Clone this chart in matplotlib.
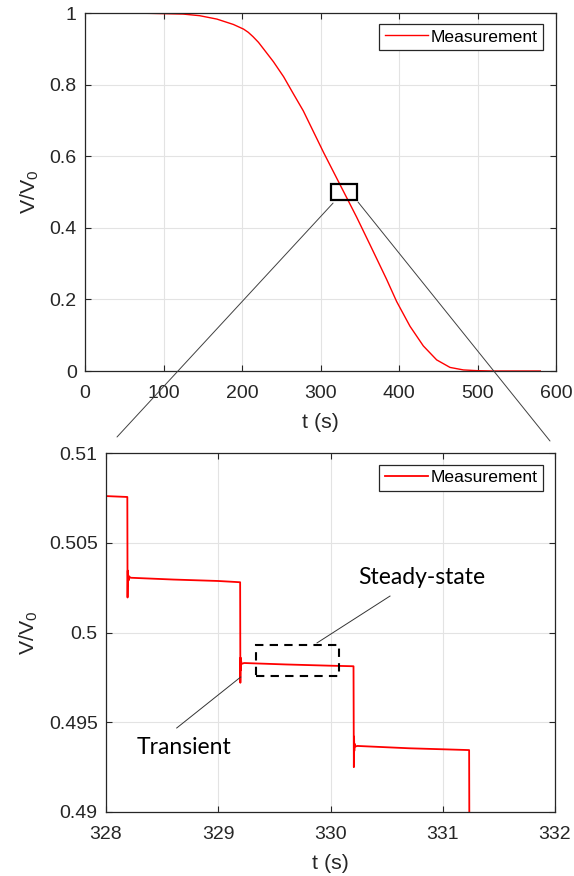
import matplotlib
matplotlib.use("Agg")
import matplotlib.pyplot as plt
from matplotlib.patches import Rectangle, ConnectionPatch

# ---------------- data ----------------
t_full = [0, 50, 83, 125, 146, 168, 189, 202, 208, 214, 221, 227, 240, 253, 265, 278, 290,
          304, 325, 346, 363, 384, 397, 414, 431, 448, 465, 482, 499, 520, 580]
v_full = [1.000, 1.000, 0.999, 0.997, 0.9925, 0.983, 0.968, 0.955, 0.946, 0.934, 0.918,
          0.901, 0.864, 0.822, 0.776, 0.727, 0.673, 0.610, 0.520, 0.430, 0.353, 0.257,
          0.194, 0.125, 0.070, 0.031, 0.010, 0.003, 0.001, 0.000, 0.000]

t_zoom = [328.000, 328.190, 328.192, 328.194, 328.196, 328.198, 328.201, 328.205,
          328.220, 328.600, 329.000, 329.195, 329.197, 329.199, 329.201, 329.204,
          329.208, 329.230, 329.600, 330.000, 330.205, 330.208, 330.210, 330.212,
          330.215, 330.220, 330.240, 330.700, 331.235, 331.237]
v_zoom = [0.50760, 0.50755, 0.50195, 0.50345, 0.50260, 0.50320, 0.50290, 0.50312,
          0.50305, 0.50295, 0.50287, 0.50280, 0.49720, 0.49860, 0.49790, 0.49840,
          0.49825, 0.49830, 0.49822, 0.49815, 0.49812, 0.49250, 0.49420, 0.49340,
          0.49380, 0.49365, 0.49368, 0.49355, 0.49345, 0.48900]

x_ticks_full = [0, 100, 200, 300, 400, 500, 600]
y_ticks_full = [0, 0.2, 0.4, 0.6, 0.8, 1]
y_ticklabels_full = ["0", "0.2", "0.4", "0.6", "0.8", "1"]
x_ticks_zoom = [328, 329, 330, 331, 332]
y_ticks_zoom = [0.49, 0.495, 0.5, 0.505, 0.51]
y_ticklabels_zoom = ["0.49", "0.495", "0.5", "0.505", "0.51"]

series_label = "Measurement"
xlabel = "t (s)"
ylabel = r"V/V$_0$"

# zoom window (top panel) and annotation geometry (bottom panel)
zoom_box = (314, 0.478, 33, 0.044)
steady_box = (329.34, 0.49757, 0.74, 0.00176)
steady_text = (330.815, 0.50309)
steady_line = ([330.53, 329.88], [0.50203, 0.49942])
trans_text = (328.695, 0.49362)
trans_line = ([328.63, 329.20], [0.49468, 0.49752])

# ---------------- style ----------------
W, H = 574, 876
plt.rcParams['font.family'] = ['Liberation Sans', 'DejaVu Sans']
plt.rcParams['mathtext.fontset'] = 'custom'
plt.rcParams['mathtext.rm'] = 'Liberation Sans'
plt.rcParams['mathtext.it'] = 'Liberation Sans'
dark = '#262626'
grid_c = '#e3e3e3'
TICK_FS = 14
LABEL_FS = 15.4
LEG_FS = 12.6

fig = plt.figure(figsize=(W / 100, H / 100), dpi=100)


def px_axes(left, top, right, bottom):
    return fig.add_axes([left / W, 1 - bottom / H, (right - left) / W, (bottom - top) / H])


def style(ax):
    for s in ax.spines.values():
        s.set_color(dark)
        s.set_linewidth(0.9)
    ax.tick_params(direction='in', length=4, width=0.8, colors=dark,
                   labelsize=TICK_FS, top=True, right=True)
    ax.tick_params(axis='x', pad=10)
    ax.tick_params(axis='y', pad=6)
    ax.grid(True, color=grid_c, linewidth=0.8)
    ax.set_axisbelow(True)


def legend(ax, anchor):
    leg = ax.legend(loc='upper right', bbox_to_anchor=anchor, borderaxespad=0,
                    fontsize=LEG_FS, handlelength=2.5, handletextpad=0.15,
                    borderpad=0.3, fancybox=False, framealpha=1, edgecolor=dark)
    leg.get_frame().set_linewidth(0.9)
    return leg


ax1 = px_axes(85, 13, 556, 371)
ax1.plot(t_full, v_full, color='red', lw=1.0, label=series_label)
ax1.set_xlim(0, 600)
ax1.set_ylim(0, 1)
ax1.set_xticks(x_ticks_full)
ax1.set_yticks(y_ticks_full)
ax1.set_yticklabels(y_ticklabels_full)
style(ax1)
ax1.set_xlabel(xlabel, fontsize=LABEL_FS, color=dark, labelpad=8)
ax1.set_ylabel(ylabel, fontsize=LABEL_FS, color=dark, labelpad=6)
ax1.add_patch(Rectangle(zoom_box[:2], zoom_box[2], zoom_box[3], fill=False,
                        edgecolor='black', lw=1.6, zorder=5))
legend(ax1, (0.973, 0.969))

ax2 = px_axes(106, 453, 555, 812)
ax2.plot(t_zoom, v_zoom, color='red', lw=1.3, label=series_label)
ax2.set_xlim(328, 332)
ax2.set_ylim(0.49, 0.51)
ax2.set_xticks(x_ticks_zoom)
ax2.set_yticks(y_ticks_zoom)
ax2.set_yticklabels(y_ticklabels_zoom)
style(ax2)
ax2.set_xlabel(xlabel, fontsize=LABEL_FS, color=dark, labelpad=8)
ax2.set_ylabel(ylabel, fontsize=LABEL_FS, color=dark, labelpad=6)
legend(ax2, (0.974, 0.967))

ax2.add_patch(Rectangle(steady_box[:2], steady_box[2], steady_box[3], fill=False,
                        edgecolor='black', lw=1.5, linestyle=(0, (4, 3)), zorder=5))
ax2.plot(*steady_line, color='#333333', lw=0.7)
ax2.plot(*trans_line, color='#333333', lw=0.7)
ax2.text(*steady_text, "Steady-state", family=['Lato', 'DejaVu Sans'], fontsize=16.5,
         ha='center', va='center', color='black')
ax2.text(*trans_text, "Transient", family=['Lato', 'DejaVu Sans'], fontsize=16.5,
         ha='center', va='center', color='black')

# connector lines between panels
for xyA, xyB in [((316, 0.469), (117 / W, 1 - 437 / H)),
                 ((347.8, 0.472), (550 / W, 1 - 441 / H))]:
    con = ConnectionPatch(xyA=xyA, coordsA=ax1.transData, xyB=xyB,
                          coordsB=fig.transFigure, color='#404040', lw=0.7)
    fig.add_artist(con)

fig.savefig("out.png", dpi=100)
